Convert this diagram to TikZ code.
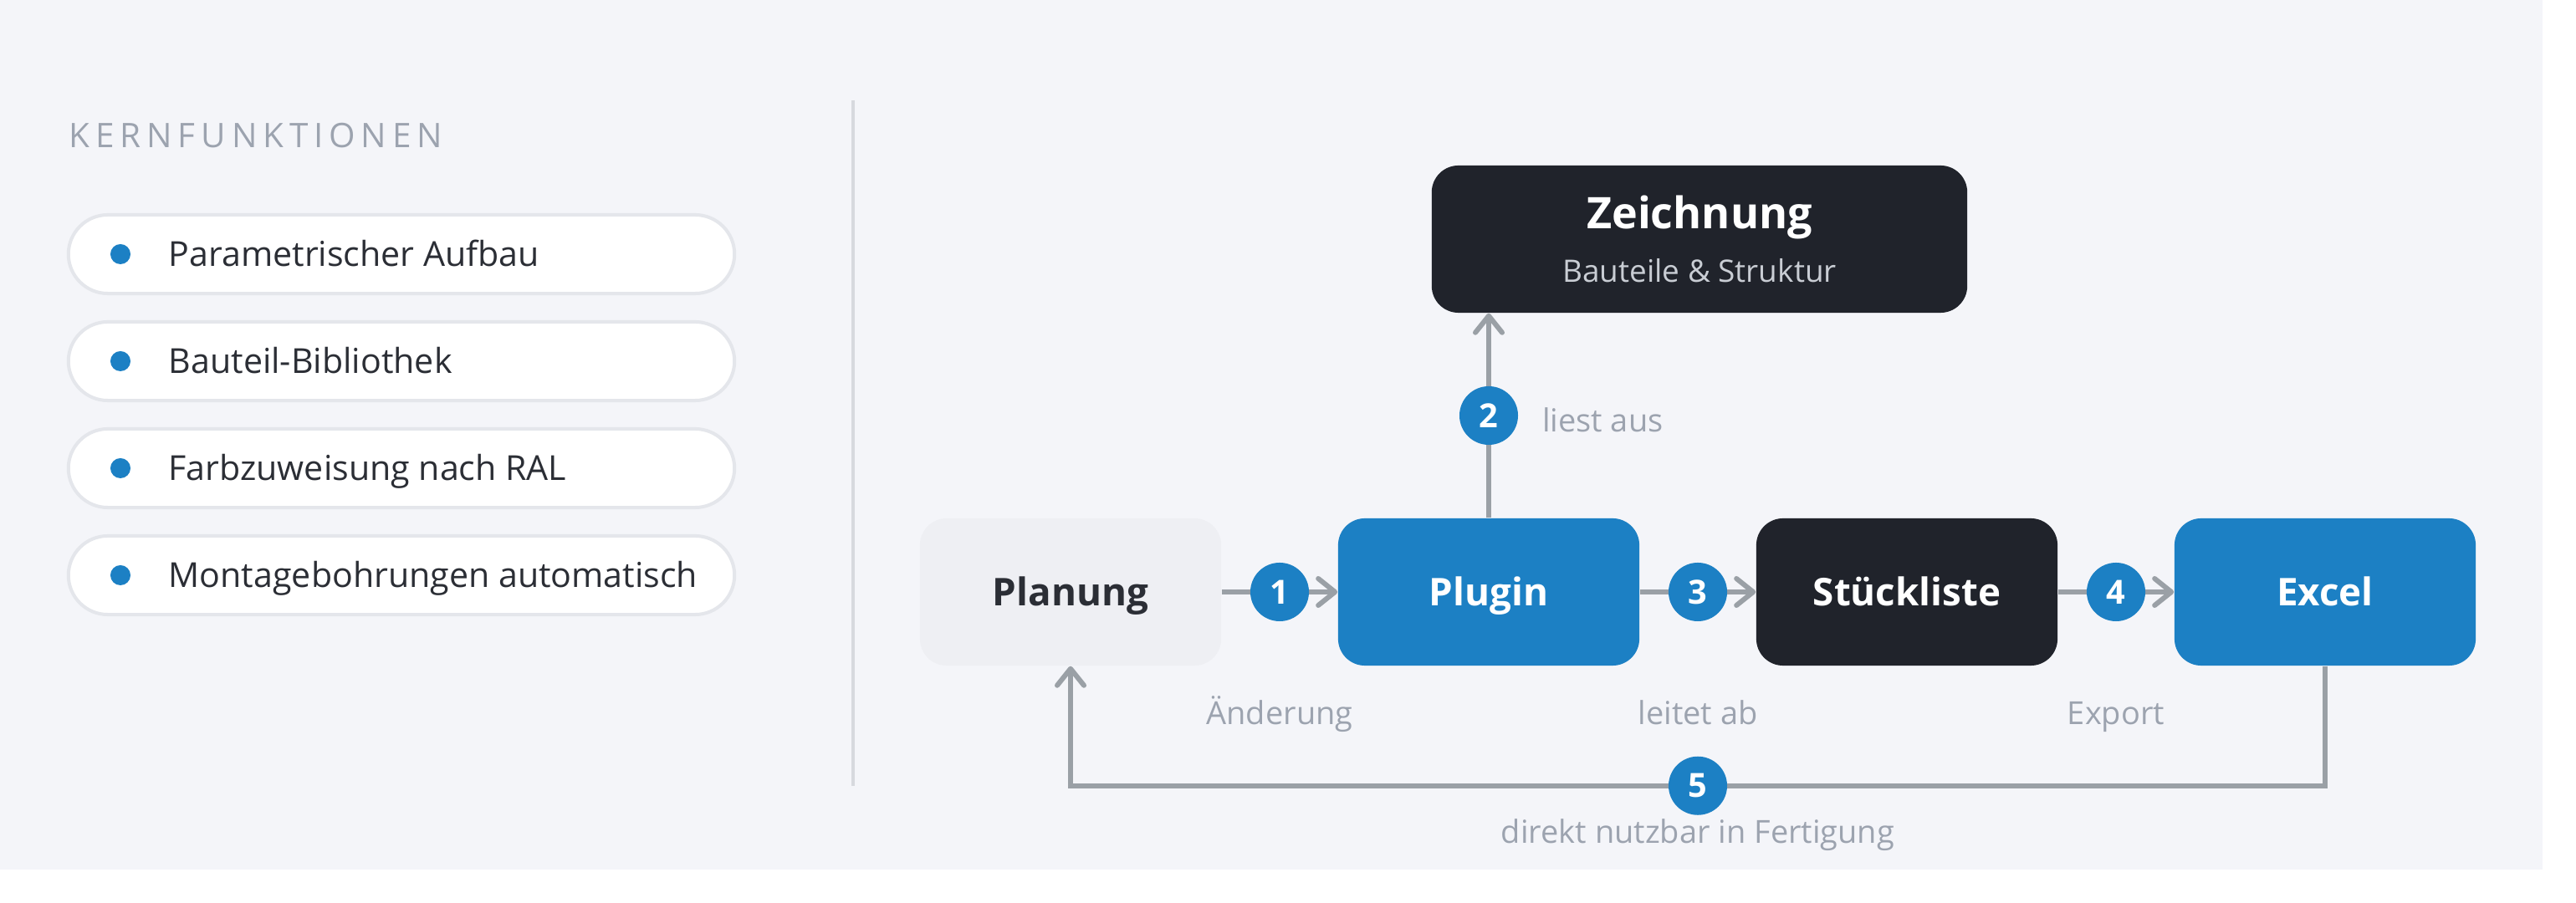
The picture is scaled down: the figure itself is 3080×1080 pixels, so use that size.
\documentclass[tikz,border=0pt]{standalone}
\usepackage{fontspec}
\setmainfont{Open Sans}
\usetikzlibrary{arrows.meta,positioning}

\definecolor{panelbg}{HTML}{F4F5F9}
\definecolor{planblue}{HTML}{1C80C4}
\definecolor{darkbg}{HTML}{20232B}
\definecolor{lightbg}{HTML}{EEEFF3}
\definecolor{linegray}{HTML}{9AA0A6}
\definecolor{labelgray}{HTML}{9CA3AF}
\definecolor{textdark}{HTML}{2B2E35}
\definecolor{pillborder}{HTML}{E4E6EB}
\definecolor{divgray}{HTML}{D7D9DE}
\definecolor{subgray}{HTML}{C9CDD4}

\tikzset{
  box/.style={rectangle, rounded corners=0.32cm, minimum width=3.6cm, minimum height=1.76cm,
    font=\fontsize{13}{15}\selectfont\bfseries, text=white, text height=9.3pt, text depth=0pt},
  bluebox/.style={box, fill=planblue},
  darkbox/.style={box, fill=darkbg},
  lightbox/.style={box, fill=lightbg, text=textdark},
  titlebox/.style={rectangle, rounded corners=0.32cm, minimum width=6.4cm, minimum height=1.76cm,
    fill=darkbg, text=white, align=center, font=\fontsize{14.8}{18}\selectfont\bfseries},
  num/.style={circle, fill=planblue, text=white, minimum size=0.7cm, inner sep=0,
    font=\fontsize{11.3}{12}\selectfont\bfseries},
  flow/.style={draw=linegray, line width=0.06cm},
  lbl/.style={font=\fontsize{10.8}{13}\selectfont, text=labelgray, inner sep=0,
    text height=8pt, text depth=2.5pt},
  pill/.style={draw=pillborder, line width=0.04cm, fill=white, rounded corners=0.47cm,
    minimum width=7.96cm, minimum height=0.94cm},
  dot/.style={circle, fill=planblue, minimum size=0.24cm, inner sep=0},
  item/.style={font=\fontsize{11.7}{14}\selectfont, text=textdark, inner sep=0, anchor=west,
    text height=8.4pt, text depth=0pt},
  head/.style={font=\fontsize{11.5}{13}\selectfont\addfontfeature{LetterSpace=17}, text=labelgray,
    inner sep=0, anchor=west},
}

\begin{document}
\begin{tikzpicture}[x=0.01cm, y=-0.01cm, >={Straight Barb[length=0.2cm,width=0.32cm,round]}]
    \fill[white] (0,0) rectangle (3080,1080);
    \useasboundingbox (0,0) rectangle (3080,1080);
    \fill[panelbg] (0,0) rectangle (3040,1040);

    % left column
    \node[head] at (82,162) (kern) {KERNFUNKTIONEN};
    \node[pill] at (480,304) (p1) {};
    \node[pill] at (480,432) (p2) {};
    \node[pill] at (480,560) (p3) {};
    \node[pill] at (480,688) (p4) {};
    \node[dot] at (144,304) (d1) {};
    \node[dot] at (144,432) (d2) {};
    \node[dot] at (144,560) (d3) {};
    \node[dot] at (144,688) (d4) {};
    \node[item] at (201,304) (t1) {Parametrischer Aufbau};
    \node[item] at (201,432) (t2) {Bauteil-Bibliothek};
    \node[item] at (201,560) (t3) {Farbzuweisung nach RAL};
    \node[item] at (201,688) (t4) {Montagebohrungen automatisch};

    \draw[divgray, line width=0.04cm] (1020,120) -- (1020,940);

    % flow
    \node[lightbox] at (1280,708) (planung) {Planung};
    \node[bluebox] at (1780,708) (plugin) {Plugin};
    \node[darkbox] at (2280,708) (stueck) {Stückliste};
    \node[bluebox] at (2780,708) (excel) {Excel};
    \node[titlebox] at (2032,286) (zeich) {Zeichnung\\{\fontsize{10.5}{12}\selectfont\mdseries\color{subgray}Bauteile \& Struktur}};

    \draw[flow,->] (planung) -- node[num] {1} node[lbl, yshift=-1.49cm] {Änderung} (plugin);
    \draw[flow,->] (plugin.north) -- node[num] {2} node[lbl, right=0.61cm, yshift=-0.1cm] {liest aus} (plugin.north |- zeich.south);
    \draw[flow,->] (plugin) -- node[num] {3} node[lbl, yshift=-1.49cm] {leitet ab} (stueck);
    \draw[flow,->] (stueck) -- node[num] {4} node[lbl, yshift=-1.49cm] {Export} (excel);
    \draw[flow,->] (excel.south) -- ++(0,143) -| node[pos=0.25,num] {5}
        node[pos=0.25,lbl,yshift=-0.59cm] {direkt nutzbar in Fertigung} (planung.south);
\end{tikzpicture}
\end{document}
